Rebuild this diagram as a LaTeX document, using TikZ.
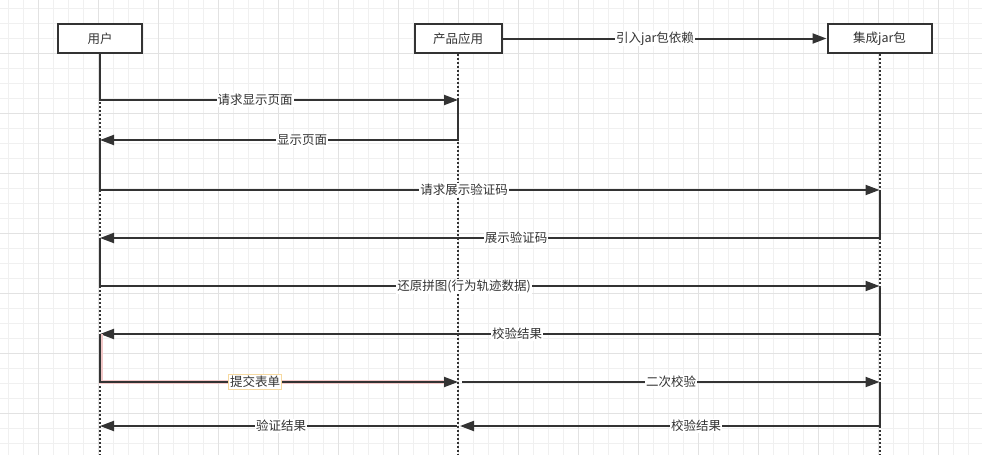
\documentclass[tikz,border=0pt]{standalone}
\usepackage{fontspec}
\newfontfamily\cjk{Noto Sans CJK SC}
\usetikzlibrary{arrows.meta}
\definecolor{ink}{HTML}{333333}
\definecolor{txt}{HTML}{333333}
\definecolor{gminor}{HTML}{F0F0F0}
\definecolor{gmajor}{HTML}{E2E2E2}
\definecolor{sel}{HTML}{F2C8C8}
\definecolor{lblsel}{HTML}{F6D9A0}
\tikzset{
  actor/.style={draw=ink, line width=2pt, fill=white, minimum height=29pt, inner sep=0pt,
    text=txt, font=\cjk\fontsize{12.5pt}{15pt}\selectfont},
  lifeline/.style={draw=ink, line width=2pt, dash pattern=on 2pt off 2pt},
  msg/.style={draw=ink, line width=2pt, -{Triangle[length=14pt,width=10pt]}},
  lbl/.style={fill=white, inner sep=1pt, text=txt, font=\cjk\fontsize{12.5pt}{15pt}\selectfont},
  lblhl/.style={lbl, draw=lblsel, line width=1pt, inner sep=1.5pt},
  gridminor/.style={draw=gminor, line width=1pt},
  gridmajor/.style={draw=gmajor, line width=1pt}
}
\begin{document}
\begin{tikzpicture}[x=1pt,y=-1pt]
\useasboundingbox (0,0) rectangle (982,455);
\fill[white] (0,0) rectangle (982,455);
% grid
\foreach \x in {8,23,...,983} \draw[gridminor] (\x,0) -- (\x,455);
\foreach \y in {8,23,...,455} \draw[gridminor] (0,\y) -- (982,\y);
\foreach \x in {38,98,...,983} \draw[gridmajor] (\x,0) -- (\x,455);
\foreach \y in {53,113,...,455} \draw[gridmajor] (0,\y) -- (982,\y);

% participants
\node[actor, minimum width=84pt] (u) at (100,38.5) {用户};
\node[actor, minimum width=87pt] (p) at (458,38.5) {产品应用};
\node[actor, minimum width=104pt] (j) at (879.5,38.5) {集成jar包};

% lifeline ends
\coordinate (ue) at (100,455);
\coordinate (pe) at (458,455);
\coordinate (je) at (879.5,455);
\draw[lifeline] (u.south) -- (ue);
\draw[lifeline] (p.south) -- (pe);
\draw[lifeline] (j.south) -- (je);

% activation points
\coordinate (ua1) at (100,140);
\coordinate (ua2) at (100,238);
\coordinate (ua3) at (100,334);
\coordinate (ua4) at (100,426);
\coordinate (pb1) at (458,100);
\coordinate (pb2) at (458,382);
\coordinate (pb3) at (458,426);
\coordinate (pb2s) at (462,382);
\coordinate (pb3t) at (460,426);
\coordinate (pb3s) at (457,426);
\coordinate (jc1) at (879.5,190);
\coordinate (jc2) at (879.5,286);
\coordinate (jc3) at (879.5,382);
\coordinate (hlend) at (444,382);

% dependency
\draw[msg] (p.east) -- (j.west);
\node[lbl] (l0) at (655,38.5) {引入jar包依赖};

% messages
\draw[msg] (u.south) |- (pb1);
\node[lbl] (l1) at (255,100) {请求显示页面};
\draw[msg] (pb1) |- (ua1);
\node[lbl] (l2) at (302,140) {显示页面};
\draw[msg] (ua1) |- (jc1);
\node[lbl] (l3) at (464,190) {请求展示验证码};
\draw[msg] (jc1) |- (ua2);
\node[lbl] (l4) at (516,238) {展示验证码};
\draw[msg] (ua2) |- (jc2);
\node[lbl] (l5) at (464,286) {还原拼图(行为轨迹数据)};
\draw[msg] (jc2) |- (ua3);
\node[lbl] (l6) at (517,334) {校验结果};
\draw[sel, line width=4pt] ([xshift=1pt]ua3) |- (hlend);
\draw[msg] (ua3) |- (pb2);
\node[lblhl] (l7) at (255,382) {提交表单};
\draw[msg] (pb2s) -- (jc3);
\node[lbl] (l8) at (671,382) {二次校验};
\draw[msg] (jc3) |- (pb3t);
\node[lbl] (l9) at (696,426) {校验结果};
\draw[msg] (pb3s) -- (ua4);
\node[lbl] (l10) at (281,426) {验证结果};
\end{tikzpicture}
\end{document}
